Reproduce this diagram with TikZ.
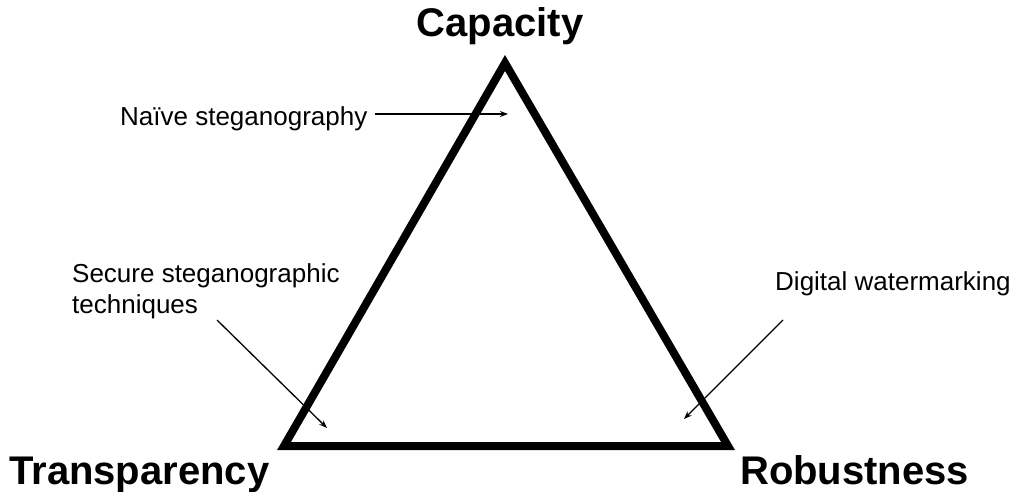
\documentclass[tikz,border=0pt]{standalone}
\usepackage{fontspec}
\setmainfont{Liberation Sans}
\usetikzlibrary{arrows.meta}
\begin{document}
\begin{tikzpicture}[x=1pt,y=-1pt,
  big/.style={font=\fontsize{40}{44}\selectfont\bfseries, inner sep=0pt},
  small/.style={font=\fontsize{26}{31}\selectfont, inner sep=0pt, align=left},
  tri/.style={line width=8pt, line join=miter},
  ptr/.style={line width=1.3pt, -{Stealth[length=8pt,width=6pt]}}]
\useasboundingbox (0,0) rectangle (1014,492);
\coordinate (A) at (505,63);
\coordinate (L) at (284,446);
\coordinate (R) at (728,446);
\draw[tri] (A) -- (L) -- (R) -- cycle;
\node[big, anchor=base] (cap) at (500,37) {Capacity};
\node[big, anchor=base west] (tra) at (9,484) {Transparency};
\node[big, anchor=base west] (rob) at (740,484) {Robustness};
\node[small, anchor=base west] (naive) at (120,125) {Naïve steganography};
\coordinate (naiveEnd) at (508,114);
\draw[ptr] ([xshift=7pt]naive.east |- naiveEnd) -- (naiveEnd);
\node[small, anchor=base west] (secure) at (72,313) {Secure steganographic\\techniques};
\coordinate (secStart) at (217,320);
\coordinate (secEnd) at (327,428);
\draw[ptr] (secStart) -- (secEnd);
\node[small, anchor=base west] (digital) at (775,290) {Digital watermarking};
\coordinate (digStart) at (783,320);
\coordinate (digEnd) at (684,419);
\draw[ptr] (digStart) -- (digEnd);
\end{tikzpicture}
\end{document}
